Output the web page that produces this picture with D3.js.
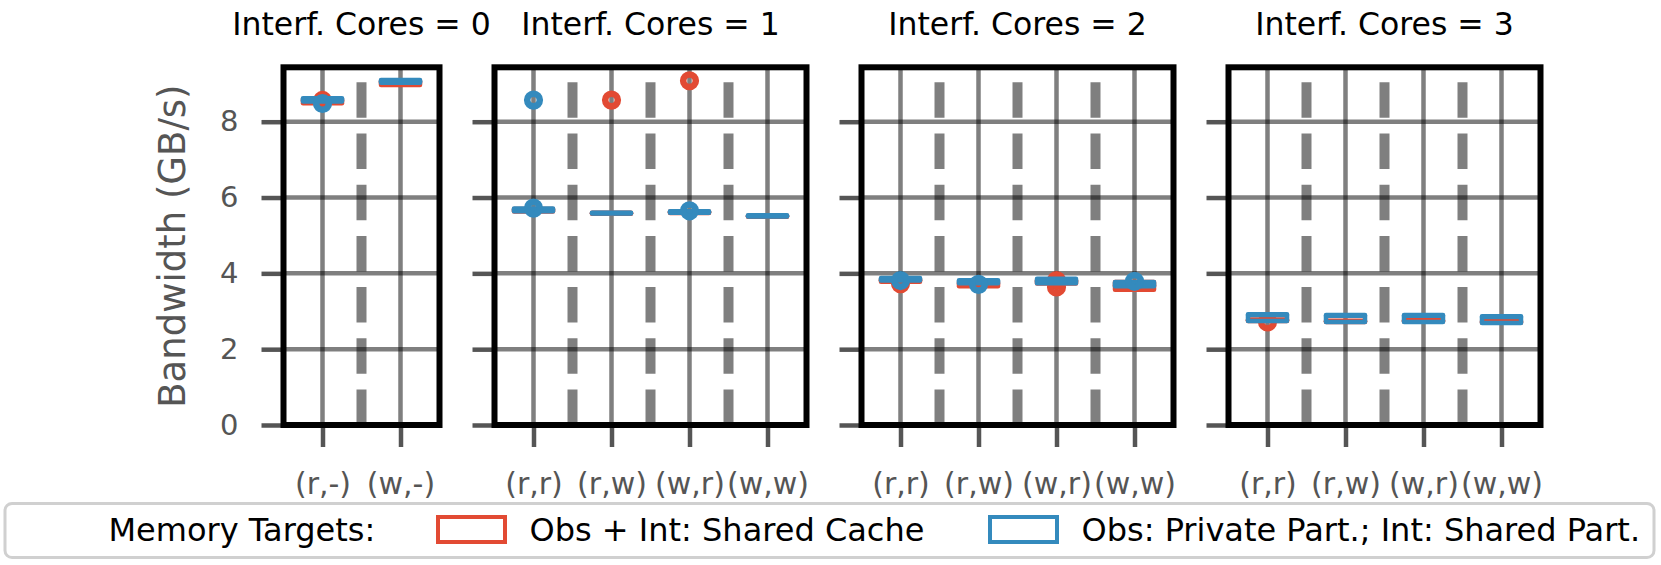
<!DOCTYPE html>
<html>
<head>
<meta charset="utf-8">
<script src="https://cdn.jsdelivr.net/npm/d3@7"></script>
<style>
  html, body { margin: 0; padding: 0; background: #fff; }
  svg { display: block; font-family: "DejaVu Sans", sans-serif; }
</style>
</head>
<body>
<svg id="chart" width="1661" height="565"></svg>
<script>
// ---------------- data ----------------
const panelTitles = ["Interf. Cores = 0", "Interf. Cores = 1", "Interf. Cores = 2", "Interf. Cores = 3"];
const categories = [
  ["(r,-)", "(w,-)"],
  ["(r,r)", "(r,w)", "(w,r)", "(w,w)"],
  ["(r,r)", "(r,w)", "(w,r)", "(w,w)"],
  ["(r,r)", "(r,w)", "(w,r)", "(w,w)"]
];
const yTicks = [0, 2, 4, 6, 8];
const yMax = 9.435;
const legendTitle = "Memory Targets:";
const seriesNames = ["Obs + Int: Shared Cache", "Obs: Private Part.; Int: Shared Part."];
const seriesColors = ["#E24A33", "#348ABD"];

// Series 1: Obs + Int: Shared Cache (red)
const sharedQ1  = [[8.49, 8.97], [5.63, 5.57, 5.59, 5.49], [3.78, 3.66, 3.73, 3.57], [2.74, 2.72, 2.73, 2.70]];
const sharedMed = [[8.56, 9.03], [5.67, 5.585, 5.61, 5.505], [3.82, 3.72, 3.78, 3.68], [2.76, 2.735, 2.745, 2.72]];
const sharedQ3  = [[8.60, 9.08], [5.70, 5.60, 5.63, 5.52], [3.85, 3.77, 3.82, 3.77], [2.78, 2.75, 2.76, 2.74]];
const sharedFliers = [
  [[8.56], []],
  [[], [8.57], [9.08], []],
  [[3.73], [], [3.81, 3.64], []],
  [[2.72], [], [], []]
];

// Series 2: Obs: Private Part.; Int: Shared Part. (blue)
const partQ1  = [[8.53, 9.03], [5.64, 5.58, 5.60, 5.50], [3.81, 3.74, 3.74, 3.66], [2.74, 2.72, 2.72, 2.69]];
const partMed = [[8.58, 9.07], [5.68, 5.59, 5.62, 5.515], [3.85, 3.78, 3.80, 3.72], [2.90, 2.88, 2.88, 2.85]];
const partQ3  = [[8.62, 9.10], [5.71, 5.60, 5.64, 5.53], [3.88, 3.82, 3.86, 3.77], [2.92, 2.90, 2.90, 2.87]];
const partFliers = [
  [[8.48], []],
  [[8.57, 5.72], [], [5.65], []],
  [[3.81], [3.71], [], [3.79]],
  [[], [], [], []]
];

const seriesStats = [
  { q1: sharedQ1, med: sharedMed, q3: sharedQ3, fliers: sharedFliers },
  { q1: partQ1, med: partMed, q3: partQ3, fliers: partFliers }
];

// ---------------- layout ----------------
const svg = d3.select("#chart");
const axTop = 67.3, axBottom = 425;
const step = 78;
const gap = 55;
const firstLeft = 283.5;
const gridColor = "rgba(0,0,0,0.5)";
const tickColor = "#555555";

const y = d3.scaleLinear().domain([0, yMax]).range([axBottom, axTop]);

let left = firstLeft;
panelTitles.forEach((title, p) => {
  const cats = categories[p];
  const width = cats.length * step;
  const x = d3.scalePoint().domain(cats).range([left, left + width]).padding(0.5);
  const g = svg.append("g");

  // horizontal grid
  g.selectAll("line.hgrid").data(yTicks).join("line")
    .attr("x1", left).attr("x2", left + width)
    .attr("y1", d => y(d)).attr("y2", d => y(d))
    .attr("stroke", gridColor).attr("stroke-width", 4.5);

  // vertical solid grid at categories
  g.selectAll("line.vgrid").data(cats).join("line")
    .attr("x1", d => x(d)).attr("x2", d => x(d))
    .attr("y1", axTop).attr("y2", axBottom)
    .attr("stroke", gridColor).attr("stroke-width", 4.5);

  // dashed separators between categories
  const seps = cats.slice(1).map((c, i) => (x(cats[i]) + x(c)) / 2);
  g.selectAll("line.sep").data(seps).join("line")
    .attr("x1", d => d).attr("x2", d => d)
    .attr("y1", axBottom).attr("y2", axTop)
    .attr("stroke", gridColor).attr("stroke-width", 10)
    .attr("stroke-dasharray", "35.5,15.7");

  // y axis ticks
  const yAxis = d3.axisLeft(y).tickValues(yTicks).tickSize(22).tickPadding(23)
    .tickFormat(p === 0 ? d3.format("d") : () => "");
  const ya = g.append("g").attr("transform", `translate(${left},0)`).call(yAxis);
  ya.select(".domain").remove();
  ya.selectAll(".tick line").attr("stroke", tickColor).attr("stroke-width", 4.5);
  ya.selectAll(".tick text").attr("fill", tickColor).style("font-size", "29px")
    .style("font-family", "DejaVu Sans");

  // x axis ticks
  const xAxis = d3.axisBottom(x).tickSize(22).tickPadding(26);
  const xa = g.append("g").attr("transform", `translate(0,${axBottom})`).call(xAxis);
  xa.select(".domain").remove();
  xa.selectAll(".tick line").attr("stroke", tickColor).attr("stroke-width", 4.5);
  xa.selectAll(".tick text").attr("fill", tickColor).style("font-size", "30px")
    .style("font-family", "DejaVu Sans");

  // boxes
  const halfBox = step * 0.25;
  seriesStats.forEach((s, si) => {
    const color = seriesColors[si];
    const sg = g.append("g");
    cats.forEach((c, ci) => {
      const cx = x(c);
      sg.append("rect")
        .attr("x", cx - halfBox).attr("width", halfBox * 2)
        .attr("y", y(s.q3[p][ci])).attr("height", Math.max(0.01, y(s.q1[p][ci]) - y(s.q3[p][ci])))
        .attr("fill", "none").attr("stroke", color).attr("stroke-width", 4.5)
        .attr("stroke-linejoin", "round");
      sg.append("line")
        .attr("x1", cx - halfBox).attr("x2", cx + halfBox)
        .attr("y1", y(s.med[p][ci])).attr("y2", y(s.med[p][ci]))
        .attr("stroke", color).attr("stroke-width", 4.5).attr("stroke-linecap", "round");
      sg.selectAll(null).data(s.fliers[p][ci]).join("circle")
        .attr("cx", cx).attr("cy", d => y(d)).attr("r", 6.3)
        .attr("fill", "none").attr("stroke", color).attr("stroke-width", 6.6);
    });
  });

  // frame
  g.append("rect").attr("x", left).attr("y", axTop).attr("width", width).attr("height", axBottom - axTop)
    .attr("fill", "none").attr("stroke", "#000").attr("stroke-width", 6);

  // title
  g.append("text").attr("x", left + width / 2).attr("y", 34.5).attr("text-anchor", "middle")
    .style("font-size", "31.5px").attr("fill", "#000").text(title);

  left += width + gap;
});

// y label
svg.append("text")
  .attr("transform", `translate(185,${(axTop + axBottom) / 2}) rotate(-90)`)
  .attr("text-anchor", "middle").attr("fill", tickColor)
  .style("font-size", "37px").text("Bandwidth (GB/s)");

// legend
const lg = svg.append("g");
lg.append("rect").attr("x", 5).attr("y", 503.5).attr("width", 1649).attr("height", 54)
  .attr("rx", 7).attr("fill", "#fff").attr("stroke", "#d0d0d0").attr("stroke-width", 3);
lg.append("text").attr("x", 108.5).attr("y", 541).style("font-size", "32px").attr("fill", "#000").text(legendTitle);
const legendX = [438, 990];
seriesNames.forEach((name, i) => {
  lg.append("rect").attr("x", legendX[i]).attr("y", 517).attr("width", 67).attr("height", 25)
    .attr("fill", "none").attr("stroke", seriesColors[i]).attr("stroke-width", 4);
  lg.append("text").attr("x", legendX[i] + 91.5).attr("y", 541).style("font-size", "32px")
    .attr("fill", "#000").text(name);
});
</script>
</body>
</html>
